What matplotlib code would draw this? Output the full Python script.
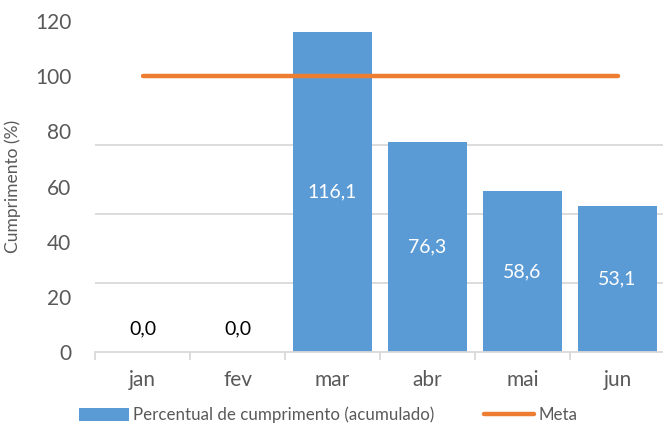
import matplotlib
matplotlib.use("Agg")
import matplotlib.pyplot as plt
from matplotlib.ticker import MultipleLocator
from matplotlib.lines import Line2D
from matplotlib.patches import Patch

plt.rcParams['font.family'] = ['Lato', 'DejaVu Sans']

months = ["jan", "fev", "mar", "abr", "mai", "jun"]
cumprimento = [0.0, 0.0, 116.1, 76.3, 58.6, 53.1]
meta = [100, 100, 100, 100, 100, 100]
series_names = ["Percentual de cumprimento (acumulado)", "Meta"]

blue = "#5B9BD5"
orange = "#ED7D31"
text_c = "#595959"
grid_c = "#D9D9D9"

fig = plt.figure(figsize=(6.63, 4.24), dpi=100)
ax = fig.add_axes([95/663, 1 - 352.3/424, 570/663, (352.3 - 21)/424])

x = list(range(len(months)))
bars = ax.bar(x, cumprimento, width=0.84, color=blue, zorder=2)
ax.plot(x, meta, color=orange, lw=3.2, solid_capstyle='round', zorder=3)

for xi, v in zip(x, cumprimento):
    lbl = f"{v:.1f}".replace(".", ",")
    if v > 10:
        ax.text(xi, v / 2, lbl, ha='center', va='center', color='white', fontsize=14, zorder=4)
    else:
        ax.text(xi, v + 8.5, lbl, ha='center', va='center', color='black', fontsize=14, zorder=4)

ax.set_xlim(-0.5, 5.5)
ax.set_ylim(0, 120)
ax.yaxis.set_major_locator(MultipleLocator(20))
ax.yaxis.set_minor_locator(MultipleLocator(25))
ax.grid(which='minor', axis='y', color=grid_c, lw=1.3, zorder=0)
ax.tick_params(axis='y', which='both', length=0, labelsize=15, labelcolor=text_c, pad=17)
ax.set_xticks(x)
ax.set_xticklabels(months)
ax.set_xticks([i - 0.5 for i in range(len(months) + 1)], minor=True)
ax.tick_params(axis='x', which='major', length=0, labelsize=15, labelcolor=text_c, pad=13)
ax.tick_params(axis='x', which='minor', length=6, color=grid_c, width=1.3)

for s in ['top', 'right', 'left']:
    ax.spines[s].set_visible(False)
ax.spines['bottom'].set_color(grid_c)
ax.spines['bottom'].set_linewidth(1.3)

ax.set_ylabel("Cumprimento (%)", fontsize=12.5, color=text_c)
ax.yaxis.set_label_coords(-(95 - 21) / 570, 0.5)

handles = [Patch(facecolor=blue, edgecolor='none'),
           Line2D([0], [0], color=orange, lw=3.2, solid_capstyle='round')]
fig.legend(handles, series_names, loc='center', bbox_to_anchor=(0.495, 1 - 415/424),
           ncol=2, frameon=False, fontsize=12.2, labelcolor=text_c,
           handlelength=2.95, handleheight=0.75, handletextpad=0.25, columnspacing=2.9)

fig.savefig("out.png", dpi=100)
